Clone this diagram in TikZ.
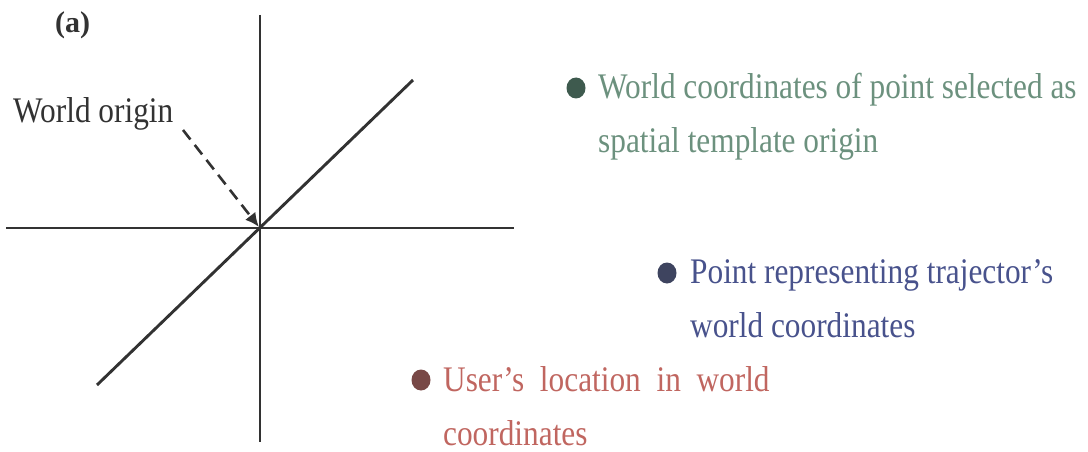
\documentclass[tikz,border=0pt]{standalone}
\usepackage{fontspec}
\setmainfont{Liberation Serif}
\usetikzlibrary{shapes.geometric, arrows.meta, positioning}
\definecolor{axisgray}{RGB}{50,50,50}
\definecolor{greentext}{RGB}{108,145,126}
\definecolor{greendot}{RGB}{62,90,78}
\definecolor{bluetext}{RGB}{72,82,140}
\definecolor{bluedot}{RGB}{62,68,95}
\definecolor{redtext}{RGB}{192,102,96}
\definecolor{reddot}{RGB}{120,72,70}
\tikzstyle{axis} = [line width=2.9pt, draw=axisgray]
\tikzstyle{dot} = [ellipse, inner sep=0pt, minimum width=19pt, minimum height=21pt]
\tikzstyle{legend} = [anchor=base west, align=left, inner sep=0pt, xscale=0.87, font=\fontsize{36}{54}\selectfont]
\tikzstyle{arrow} = [line width=2.6pt, dash pattern=on 12pt off 7pt, -{Latex[length=14pt, width=13pt]}, draw=axisgray]

\begin{document}
\begin{tikzpicture}[x=1pt, y=1pt]
    \useasboundingbox (0,0) rectangle (1088,451);
    \coordinate (vtop) at (260,436);
    \coordinate (vbot) at (260,9);
    \coordinate (hleft) at (6,223);
    \coordinate (hright) at (514,223);
    \coordinate (dlow) at (97,66);
    \coordinate (dhigh) at (413,371);
    \coordinate (origin) at (259,224);
    \coordinate (tail) at (183,321);

    \node (label) [anchor=base west, inner sep=0pt, text=axisgray, font=\fontsize{30}{36}\selectfont\bfseries] at (55,418) {(a)};
    \node (worldorigin) [legend, text=axisgray] at (13,329) {World origin};

    % last line baseline sets the node position
    \node (gdot) [dot, fill=greendot] at (576,363) {};
    \node (gtext) [legend, text=greentext] at (598,299) {World coordinates of point selected as\\spatial template origin};
    \node (bdot) [dot, fill=bluedot] at (667,178) {};
    \node (btext) [legend, text=bluetext] at (690,114) {Point representing trajector's\\world coordinates};
    \node (rdot) [dot, fill=reddot] at (421,71) {};
    \node (rtext) [legend, text=redtext] at (443,6) {User's\ \ location\ \ in\ \ world\\coordinates};

    \draw [axis] (vtop) -- (vbot);
    \draw [axis] (hleft) -- (hright);
    \draw [axis] (dlow) -- (dhigh);
    \draw [arrow] (tail) -- (origin);
\end{tikzpicture}
\end{document}
